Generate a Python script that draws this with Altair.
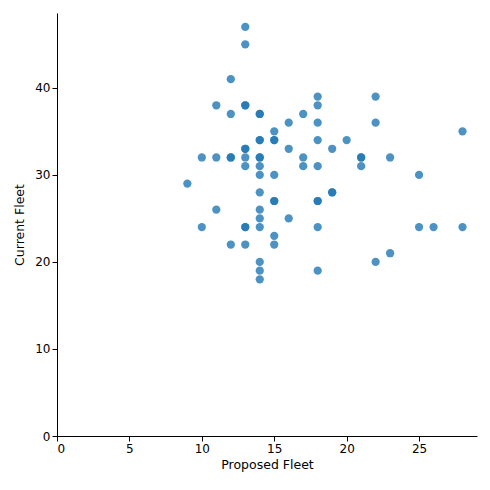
import altair as alt
import pandas as pd

proposed = [9, 10, 10, 11, 11, 11, 12, 12, 12, 12, 12, 13, 13, 13, 13, 13, 13, 13, 13, 13, 13, 13,
            14, 14, 14, 14, 14, 14, 14, 14, 14, 14, 14, 14, 14, 14, 14, 15, 15, 15, 15, 15, 15, 15, 15,
            16, 16, 16, 17, 17, 17, 18, 18, 18, 18, 18, 18, 18, 18, 18, 19, 19, 19, 20, 21, 21, 21,
            22, 22, 22, 23, 23, 25, 25, 26, 28, 28]
current = [29, 32, 24, 38, 32, 26, 41, 37, 32, 32, 22, 47, 45, 38, 38, 33, 33, 32, 31, 24, 24, 22,
           37, 37, 34, 34, 32, 32, 31, 30, 28, 26, 25, 24, 20, 19, 18, 35, 34, 34, 30, 27, 27, 23, 22,
           36, 33, 25, 37, 32, 31, 39, 38, 36, 34, 31, 27, 27, 24, 19, 33, 28, 28, 34, 32, 32, 31,
           39, 36, 20, 32, 21, 30, 24, 24, 35, 24]

df = pd.DataFrame({"Proposed Fleet": proposed, "Current Fleet": current})

chart = (
    alt.Chart(df)
    .mark_circle(size=68, opacity=0.8, color="#1f77b4")
    .encode(
        x=alt.X("Proposed Fleet:Q", scale=alt.Scale(domain=[0, 29], nice=False),
                axis=alt.Axis(values=[0, 5, 10, 15, 20, 25])),
        y=alt.Y("Current Fleet:Q", scale=alt.Scale(domain=[0, 48.6], nice=False),
                axis=alt.Axis(values=[0, 10, 20, 30, 40], titlePadding=8)),
    )
    .properties(width=420, height=423, autosize=alt.AutoSizeParams(type="none"),
                padding={"left": 49, "top": 5, "right": 5, "bottom": 46})
    .configure_view(stroke=None)
    .configure_axis(grid=False, domainColor="black", tickColor="black", labelColor="black",
                    titleColor="black", labelFontSize=12, titleFontSize=12.5,
                    titleFontWeight="normal", labelFont="DejaVu Sans", titleFont="DejaVu Sans")
)

chart.save("out.html", embed_options={"renderer": "svg", "actions": False})
